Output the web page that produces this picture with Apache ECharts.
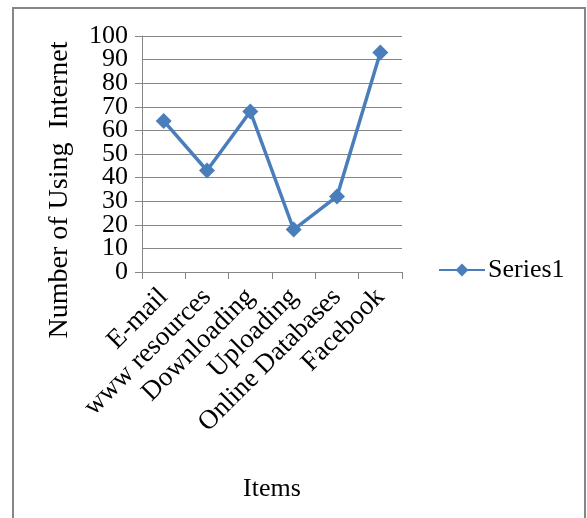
<!DOCTYPE html>
<html>
<head>
<meta charset="utf-8">
<script src="https://cdn.jsdelivr.net/npm/echarts@6/dist/echarts.min.js"></script>
<style>
html,body{margin:0;padding:0;background:#fff;}
#c{width:587px;height:518px;}
</style>
</head>
<body>
<div id="c"></div>
<script>
var categories = ['E-mail', 'www resources', 'Downloading', 'Uploading', 'Online Databases', 'Facebook'];
var series1 = [64, 43, 68, 18, 32, 93];
var seriesName = 'Series1';
var yTitle = 'Number of Using  Internet';
var xTitle = 'Items';
var yMin = 0, yMax = 100, yStep = 10;

var FONT = '"Liberation Serif", "Times New Roman", serif';
var chart = echarts.init(document.getElementById('c'), null, {renderer: 'canvas'});
chart.setOption({
  backgroundColor: '#fff',
  animation: false,
  textStyle: {fontFamily: FONT, color: '#000'},
  grid: {left: 142, right: 185, top: 36, bottom: 246, containLabel: false},
  legend: {
    data: [seriesName],
    left: 433, top: 252,
    itemWidth: 46, itemHeight: 16, itemGap: 4,
    textStyle: {fontFamily: FONT, fontSize: 26, color: '#000', padding: [0, 0, 0, -2]}
  },
  xAxis: {
    type: 'category',
    data: categories,
    boundaryGap: true,
    name: xTitle,
    nameLocation: 'middle',
    nameGap: 204,
    nameTextStyle: {fontFamily: FONT, fontSize: 26, color: '#000'},
    axisLine: {lineStyle: {color: '#868686', width: 1}},
    axisTick: {show: true, length: 7, lineStyle: {color: '#868686'}},
    axisLabel: {rotate: 45, margin: 21, fontFamily: FONT, fontSize: 27, color: '#000', interval: 0}
  },
  yAxis: [{
    type: 'value',
    min: yMin, max: yMax, interval: yStep,
    axisLine: {show: true, lineStyle: {color: '#868686', width: 1}},
    axisTick: {show: true, length: 7, lineStyle: {color: '#868686'}},
    axisLabel: {showMinLabel: true, showMaxLabel: true, margin: 14, fontFamily: FONT, fontSize: 26, color: '#000'},
    splitLine: {show: true, lineStyle: {color: '#868686', width: 1}}
  }, {
    type: 'value',
    position: 'left',
    min: yMin, max: yMax, interval: yStep,
    axisLine: {show: false}, axisTick: {show: false}, splitLine: {show: false},
    axisLabel: {
      showMinLabel: false, showMaxLabel: false, margin: 14, fontFamily: FONT, fontSize: 26, color: '#000',
      formatter: function (v) { return (v === yMin + yStep || v === yMax - yStep) ? String(v) : ''; }
    }
  }],
  graphic: [
    {type: 'rect', shape: {x: 13, y: 8, width: 572, height: 540}, style: {fill: 'none', stroke: '#868686', lineWidth: 2}, silent: true},
    {type: 'text', x: 60, y: 190, rotation: Math.PI / 2,
     style: {text: yTitle, font: '28px ' + FONT, fill: '#000', textAlign: 'center', textVerticalAlign: 'middle'}}
  ],
  series: [{
    name: seriesName,
    type: 'line',
    yAxisIndex: 0,
    data: series1,
    symbol: 'diamond',
    symbolSize: 16,
    lineStyle: {color: '#4A7EBB', width: 3.5},
    itemStyle: {color: '#4A7EBB'}
  }]
});
</script>
</body>
</html>
